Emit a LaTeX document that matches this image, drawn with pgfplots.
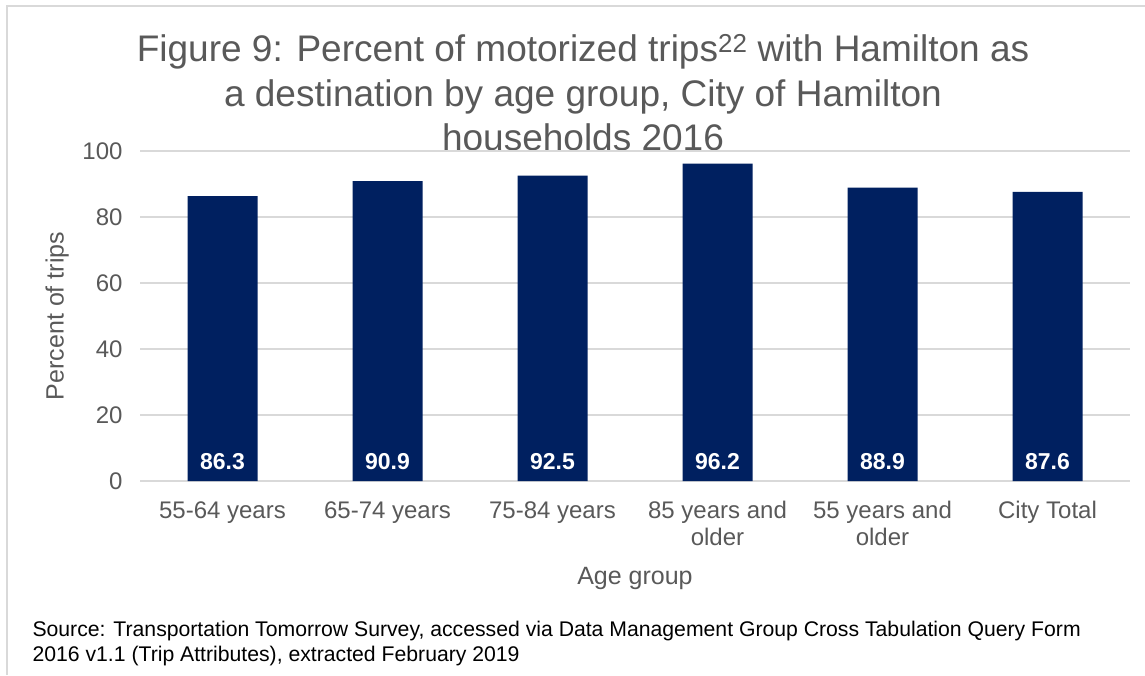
\documentclass[border=0pt]{standalone}
\usepackage{pgfplots}
\pgfplotsset{compat=1.18}
\usepackage{pgfplotstable}
\usepackage{fontspec}
\setmainfont{Liberation Sans}
\definecolor{barblue}{RGB}{0,32,96}
\definecolor{txtgray}{RGB}{89,89,89}
\definecolor{gridgray}{RGB}{217,217,217}
\pgfplotstableread{
x y
0 86.3
1 90.9
2 92.5
3 96.2
4 88.9
5 87.6
}\datatable
\begin{document}
\begin{tikzpicture}
\useasboundingbox (0pt,0pt) rectangle (1145pt,675pt);
\fill[white] (0pt,0pt) rectangle (1145pt,675pt);
\draw[gridgray, line width=1.5pt] (7pt,0pt) -- (7pt,669pt) -- (1145pt,669pt);
\node[align=center, text=txtgray, font=\fontsize{37}{44.5}\selectfont] at (583pt,582pt)
  {Figure 9: Percent of motorized trips\textsuperscript{22} with Hamilton as\\
   a destination by age group, City of Hamilton\\
   households 2016};
\begin{axis}[
  at={(140pt,194pt)}, anchor=south west,
  scale only axis, width=990pt, height=330pt,
  xmin=-0.5, xmax=5.5, ymin=0, ymax=100,
  ytick={0,20,40,60,80,100},
  xtick=data,
  xticklabels={55-64 years, 65-74 years, 75-84 years, {85 years and\\older}, {55 years and\\older}, City Total},
  axis line style={draw=none},
  major tick length=0pt,
  ymajorgrids, grid style={gridgray, line width=1.2pt},
  /pgf/number format/assume math mode=true,
  tick label style={text=txtgray, font=\fontsize{24}{27}\selectfont},
  xticklabel style={align=center, yshift=-17pt},
  yticklabel style={xshift=-14pt},
  xlabel={Age group}, ylabel={Percent of trips},
  label style={text=txtgray, font=\fontsize{25}{29}\selectfont},
  xlabel style={at={(axis description cs:0.5,-0.294)}, anchor=center},
  ylabel style={at={(axis description cs:-0.0838,0.5)}, anchor=center},
  clip=false,
]
\addplot[ybar, bar width=70pt, fill=barblue, draw=none,
  visualization depends on={y \as \rawy},
  nodes near coords,
  nodes near coords style={text=white, font=\bfseries\fontsize{23}{27}\selectfont, anchor=center,
     yshift={-(\rawy-5.8)*3.3pt}},
  /pgf/number format/.cd, fixed, precision=1, fixed zerofill, assume math mode=true,
] table[x=x,y=y] {\datatable};
\end{axis}
\node[anchor=west, align=left, text=black, font=\fontsize{21.2}{25}\selectfont] at (29pt,31pt)
  {Source: Transportation Tomorrow Survey, accessed via Data Management Group Cross Tabulation Query Form\\
   2016 v1.1 (Trip Attributes), extracted February 2019};
\end{tikzpicture}
\end{document}
